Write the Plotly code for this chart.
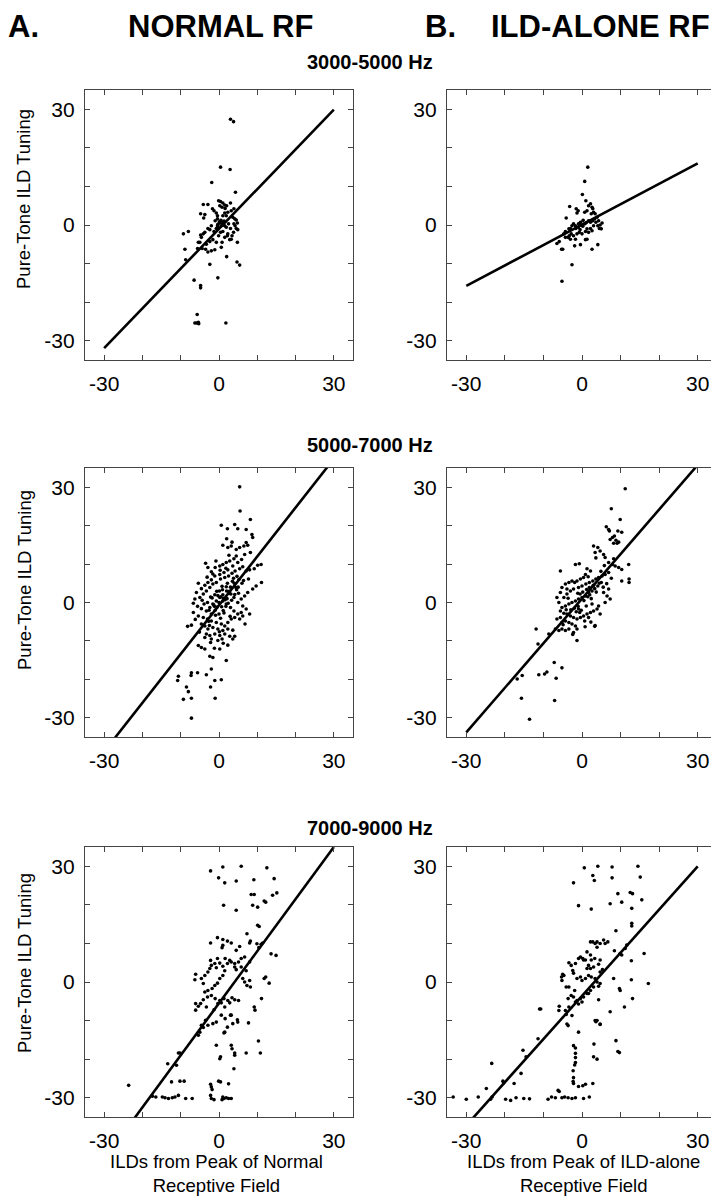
import plotly.graph_objects as go

# ILD tuning: pure-tone vs receptive-field peak, by frequency band
bands = ["3000-5000 Hz", "5000-7000 Hz", "7000-9000 Hz"]
col_heads = ["NORMAL RF", "ILD-ALONE RF"]
col_letters = ["A.", "B."]
x_titles = ["ILDs from Peak of Normal<br>Receptive Field",
            "ILDs from Peak of ILD-alone<br>Receptive Field"]
y_title = "Pure-Tone ILD Tuning"
tick_vals = [-30, -20, -10, 0, 10, 20, 30]
tick_text = ["-30", "", "", "0", "", "", "30"]

# regression lines (slope, intercept) per panel: normal then ild-alone, by band
fit_slope = [[1.03, 0.53], [1.27, 1.16], [1.35, 1.12]]
fit_icept = [[-1.0, 0.1], [-0.7, 1.0], [-5.5, -3.6]]

normal_3k = [
    (3.0, 27.4), (3.8, 26.8), (0.4, 15.0), (2.9, 14.4), (-1.9, 11.0), (4.3, 8.5),
    (-4.1, 5.3), (-2.9, 5.3), (-0.1, 6.3), (0.4, 6.1), (1.0, 5.7), (1.5, 5.2),
    (3.0, 5.7), (0.2, 5.0), (-4.8, 2.9), (-3.7, 2.7), (-4.0, 1.8), (-1.7, 4.2),
    (-1.3, 3.7), (-0.7, 3.1), (-0.4, 2.4), (1.5, 3.1), (1.9, 2.4), (3.9, 4.2),
    (3.2, 3.7), (4.1, 1.6), (4.5, 1.3), (4.8, 0.5), (3.9, 0.3), (-9.3, -2.3),
    (-8.0, -1.7), (-8.9, -6.3), (-8.7, -9.0), (-2.4, -10.2), (-6.5, -14.3),
    (-4.8, -15.7), (-4.8, -16.3), (-0.3, -13.7), (2.0, -8.2), (4.7, -9.6),
    (5.4, -10.4), (4.8, -4.5), (-5.7, -23.2), (-6.3, -25.4), (-5.9, -25.4),
    (-5.4, -25.2), (-5.3, -25.6), (1.8, -25.4), (-5.4, -4.5), (-4.6, -3.2),
    (-4.8, -2.6), (-4.1, -2.3), (-3.7, -1.9), (-2.9, -0.9), (-2.4, -1.2),
    (-2.0, -0.2), (-1.3, -1.7), (-0.7, -0.9), (0.2, 0.5), (0.6, -0.2), (1.0, 0.0),
    (-0.3, 0.2), (-0.4, -0.2), (1.5, -0.2), (1.9, -0.6), (2.5, 0.3), (3.0, -0.9),
    (2.3, -2.3), (3.2, -3.7), (2.8, -3.8), (1.5, -3.2), (0.8, -4.5), (0.6, -5.8),
    (-0.7, -4.5), (-1.1, -6.4), (-2.0, -6.7), (-2.9, -7.0), (-3.5, -6.3),
    (-4.4, -6.1), (-5.6, -6.1), (-5.0, -4.5), (-3.3, -5.0), (-2.4, -4.3),
    (-1.6, -3.8), (-0.1, -2.8), (0.4, -1.9), (1.0, -1.7), (2.2, -2.8), (3.4, -2.8),
    (3.8, -1.9), (4.5, -0.9), (4.9, -1.2), (-1.0, 1.1), (-0.4, 1.6), (1.0, 2.4),
    (0.8, 4.6), (1.6, 4.3), (2.0, 5.0), (2.3, 3.3), (3.6, 2.0), (4.2, -0.2),
    (0.1, 0.8), (0.5, 1.2), (-0.2, -0.6), (0.9, 0.6), (1.3, 1.0),
]

ildalone_3k = [
    (1.5, 15.0), (0.7, 11.3), (0.1, 7.9), (1.0, 6.3), (-3.2, 4.8), (-4.1, 1.8),
    (-5.2, -14.6), (-2.6, -10.3), (-6.5, -4.8), (-5.9, -4.3), (-5.3, -6.3),
    (-5.0, -6.3), (-1.9, -5.4), (-0.4, -5.1), (0.9, -3.8), (1.3, -3.7), (2.6, -6.3),
    (4.1, -5.1), (-1.5, 4.2), (-1.0, 3.7), (-1.3, 3.1), (0.7, 3.3), (1.3, 3.7),
    (1.7, 5.0), (2.2, 5.5), (2.6, 4.6), (2.8, 4.2), (2.4, 2.9), (1.7, 1.1),
    (2.2, 0.7), (2.8, 1.1), (3.3, 1.6), (3.6, 0.7), (4.1, -0.2), (4.5, -0.9),
    (5.0, -1.0), (4.7, 0.0), (5.2, 0.5), (4.3, 1.1), (3.9, 2.0), (3.4, 2.9),
    (3.0, 3.3), (-4.3, -1.7), (-4.7, -2.3), (-3.4, -1.0), (-3.0, -0.9), (-2.6, -0.2),
    (-2.2, 0.3), (-1.7, -0.2), (-1.6, -0.9), (-1.0, -0.6), (-0.9, 0.3), (-0.4, 0.7),
    (-0.2, 0.0), (0.2, -0.3), (0.7, 0.3), (-0.7, -1.9), (-1.3, -2.3), (-2.2, -2.8),
    (-2.8, -2.3), (-3.3, -2.8), (-3.6, -3.2), (-4.3, -3.2), (-3.0, -3.7),
    (-1.7, -3.7), (0.0, -2.3), (0.9, -1.7), (1.3, -1.0), (1.7, -1.9), (2.2, -0.9),
    (2.6, -1.5), (3.0, -0.2), (0.3, 1.2), (1.1, 0.6), (-0.5, -1.2),
]

normal_5k = [
    (5.4, 30.1), (5.5, 23.8), (8.2, 21.6), (0.6, 20.1), (2.2, 19.2), (4.1, 20.3),
    (4.9, 19.2), (7.1, 19.0), (8.6, 17.7), (8.8, 16.9), (1.0, 14.9), (2.3, 14.3),
    (3.4, 15.7), (3.2, 14.7), (4.5, 13.8), (5.4, 14.3), (6.5, 14.7), (7.1, 15.6),
    (7.5, 14.9), (8.2, 13.0), (6.7, 12.5), (-3.5, 10.2), (-2.9, 9.1), (-2.0, 8.0),
    (-1.0, 9.1), (0.2, 9.5), (1.0, 9.9), (1.9, 10.4), (2.8, 10.8), (3.9, 11.4),
    (4.5, 12.1), (4.9, 10.4), (3.6, 9.5), (2.3, 8.5), (1.3, 7.8), (0.2, 7.3),
    (-1.1, 6.9), (-2.0, 5.9), (-2.9, 5.2), (-3.7, 4.5), (-4.6, 3.6), (-5.4, 5.0),
    (-5.9, 2.6), (-5.0, 1.3), (-4.1, 2.2), (-3.3, 3.0), (-2.4, 3.9), (-1.6, 4.8),
    (-0.7, 5.2), (0.4, 6.1), (1.5, 6.5), (2.5, 6.9), (3.4, 7.6), (4.2, 8.2),
    (5.4, 8.8), (6.2, 9.3), (7.1, 8.2), (8.0, 8.5), (9.2, 8.8), (10.1, 9.7),
    (11.0, 9.9), (11.1, 5.2), (9.7, 4.3), (8.8, 3.5), (7.5, 2.6), (6.7, 1.7),
    (5.8, 0.9), (4.9, 0.0), (6.2, -0.9), (7.1, -1.7), (5.8, -2.6), (4.9, -3.0),
    (3.9, -2.2), (3.0, -1.3), (1.9, -0.4), (1.0, 0.4), (0.2, 1.3), (-0.7, 0.4),
    (-1.6, -0.4), (-2.4, -1.3), (-3.3, -2.2), (-4.6, -1.6), (-5.6, -1.0),
    (-6.7, -0.2), (-6.3, 0.9), (-6.7, -2.6), (-5.4, -3.5), (-4.1, -3.9),
    (-3.0, -4.3), (-2.0, -4.8), (-0.7, -5.2), (0.6, -5.6), (1.5, -6.1), (2.3, -5.2),
    (3.2, -4.3), (4.1, -3.9), (5.4, -4.3), (6.2, -3.5), (6.8, -5.6), (8.0, -3.0),
    (2.3, -6.9), (1.0, -7.3), (-0.3, -6.9), (-1.6, -6.5), (-2.9, -6.9),
    (-3.7, -6.1), (-4.6, -5.6), (-3.3, -8.2), (-2.4, -8.6), (-1.1, -8.2),
    (0.2, -8.6), (1.5, -8.2), (2.8, -8.8), (3.6, -9.5), (4.1, -8.8), (0.8, -9.5),
    (-0.3, -9.9), (-2.0, -9.5), (-2.2, -10.4), (-3.7, -9.1), (-8.2, -6.2),
    (-7.2, -5.9), (-5.4, -11.2), (-4.6, -11.7), (-3.7, -12.1), (-2.4, -14.0),
    (-1.6, -14.3), (0.2, -12.1), (2.3, -11.1), (1.9, -15.1), (-2.0, -17.3),
    (-3.3, -18.8), (-7.2, -18.3), (-7.3, -19.0), (-5.6, -18.3), (-10.6, -19.2),
    (-10.8, -20.3), (-8.5, -22.0), (-8.0, -23.2), (-9.3, -25.2), (-7.2, -24.9),
    (-2.2, -22.0), (-1.1, -20.3), (0.6, -20.1), (-1.0, -24.9), (-7.2, -30.1),
    (1.0, 2.0), (2.0, 3.0), (0.0, 0.0), (1.2, 1.1), (3.0, 4.0), (2.1, 1.0),
    (-1.0, -2.0), (0.0, -3.0), (-1.2, -1.0), (3.1, 2.2), (4.0, 5.0), (2.2, 5.0),
    (-2.0, -3.0), (1.1, -2.1), (-3.0, 0.0), (5.0, 4.0), (4.1, 2.1), (6.0, 5.0),
    (0.1, 3.0), (-1.1, 2.0), (0.5, 1.5), (1.8, -1.0), (2.6, 2.4), (3.5, 5.5),
    (-0.5, -1.2), (-1.8, 1.2), (0.8, 4.2), (4.6, 3.3), (5.2, 6.0), (-2.6, -2.0),
    (-0.3, 1.8), (0.7, -1.1), (1.6, 0.7), (2.7, 2.9), (3.3, 0.6), (-1.4, -0.6),
    (-2.2, 1.4), (0.9, 3.3), (1.9, 4.1), (3.8, 6.3), (4.4, 3.9), (5.1, 2.4),
    (-0.9, -3.3), (0.4, -4.1), (1.3, -2.7), (-2.7, -4.9), (-3.9, -0.4),
    (-4.4, 0.6), (2.9, -3.6), (3.6, -7.2), (0.3, 8.4), (-1.6, 7.4), (2.6, 12.3),
    (5.9, 11.2), (6.4, 5.7), (7.7, 6.1), (-5.1, -7.7), (-1.2, -11.9), (1.1, -10.6),
    (-6.2, -4.4), (2.4, -0.2), (-0.6, 2.9), (3.9, 1.3), (-2.5, -6.0), (1.8, 8.9),
    (4.7, 6.8), (-3.1, 6.6), (0.1, -7.6), (-0.8, 10.8), (2.0, 16.6),
]

ildalone_5k = [
    (11.2, 29.6), (7.6, 24.4), (9.9, 21.6), (6.3, 19.7), (6.9, 19.0), (7.1, 18.6),
    (9.3, 18.6), (10.3, 18.3), (8.4, 17.3), (7.9, 16.9), (8.8, 16.2), (9.5, 15.7),
    (9.1, 15.4), (8.2, 15.4), (7.3, 16.4), (3.0, 14.7), (4.1, 14.3), (3.4, 13.0),
    (4.7, 13.4), (5.6, 12.5), (6.0, 11.7), (6.9, 10.4), (7.9, 9.9), (8.6, 9.5),
    (9.5, 9.1), (10.3, 8.6), (12.1, 9.9), (12.2, 6.1), (12.2, 5.2), (10.3, 5.6),
    (-1.7, 9.9), (-0.7, 10.1), (1.3, 8.8), (2.2, 8.2), (0.9, 7.3), (0.4, 6.5),
    (-0.4, 6.1), (-1.3, 5.6), (-1.9, 5.2), (-2.6, 5.6), (-3.4, 5.2), (-4.3, 4.8),
    (-5.2, 3.9), (-3.9, 3.5), (-3.0, 3.0), (-2.2, 3.5), (-0.9, 3.9), (0.0, 4.3),
    (1.0, 4.8), (1.9, 5.2), (2.8, 5.6), (3.6, 6.1), (4.3, 6.5), (5.2, 6.9),
    (6.0, 7.3), (6.9, 7.8), (5.0, 5.2), (4.1, 4.3), (3.3, 3.6), (2.6, 3.0),
    (1.7, 2.6), (0.9, 1.7), (0.0, 1.3), (-0.9, 0.9), (-1.7, 0.4), (-2.6, 0.0),
    (-3.4, -0.4), (-4.3, -0.9), (-5.2, -1.3), (-5.6, -2.2), (-4.7, -2.8),
    (-3.9, -3.0), (-3.0, -3.5), (-2.2, -3.9), (-1.3, -4.3), (-0.4, -3.9),
    (0.4, -3.5), (1.3, -3.0), (2.2, -2.6), (3.0, -2.2), (3.9, -1.7), (4.7, -3.0),
    (1.7, -3.9), (0.7, -4.8), (3.3, -6.2), (-1.3, -6.9), (-2.2, -7.8), (-3.4, -6.9),
    (-4.3, -7.3), (-5.2, -6.9), (-6.0, -7.3), (-6.9, -6.9), (-5.6, -3.9),
    (-6.5, -4.3), (-5.2, -5.2), (-4.3, -4.8), (-3.4, -5.2), (-2.6, -5.6),
    (-1.7, -6.1), (-0.9, -1.7), (-6.0, 0.0), (-6.5, 1.3), (-4.7, 1.3), (-3.9, 2.2),
    (-5.6, 2.6), (5.6, 2.6), (6.5, 1.7), (7.3, 0.9), (6.9, 3.5), (6.0, 0.0),
    (4.3, -0.9), (2.6, -0.4), (-5.6, 8.2), (-11.9, -6.9), (-11.4, -10.8),
    (-8.6, -8.2), (-7.2, -15.6), (-5.2, -17.0), (-9.7, -18.6), (-11.2, -18.8),
    (-9.1, -18.1), (-15.5, -19.0), (-16.8, -19.9), (-6.7, -19.7), (-15.7, -24.9),
    (-7.1, -25.5), (-13.6, -30.4), (-1.3, -9.9), (3.4, -6.0),
    (0.5, 0.5), (1.5, 1.5), (2.0, 2.0), (-1.0, -1.0), (-2.0, -1.5), (3.0, 4.5),
    (1.2, 3.4), (-0.5, 2.2), (2.4, 1.0), (-1.5, -2.4), (4.5, 5.0), (5.5, 4.0),
    (0.2, 2.7), (1.1, -0.9), (-0.6, -2.6), (2.9, 4.4), (3.7, 2.7), (4.9, 8.1),
    (5.8, 9.6), (-2.9, -1.9), (-3.6, 1.1), (-1.1, 2.4), (1.6, 6.7), (2.3, -5.1),
    (-4.9, -5.8), (6.4, 4.9), (7.6, 6.3), (0.8, -6.3), (-2.4, -8.3), (3.6, 11.6),
    (-4.1, -1.9), (8.2, 11.4), (-0.2, -2.0), (1.9, 3.9),
]

normal_7k = [
    (-2.2, 28.8), (1.0, 29.8), (5.8, 30.0), (12.5, 29.6), (-0.1, 27.0), (1.5, 25.7),
    (4.5, 26.2), (9.1, 26.5), (14.4, 26.8), (8.4, 22.7), (9.2, 22.7), (11.8, 21.0),
    (12.2, 20.7), (14.0, 22.5), (15.1, 23.1), (1.2, 19.9), (4.5, 18.6), (8.8, 19.9),
    (10.1, 19.4), (10.1, 14.7), (10.5, 14.4), (-0.4, 11.5), (-2.2, 10.1),
    (1.0, 11.0), (1.0, 9.5), (0.8, 8.9), (2.2, 10.6), (3.2, 10.1), (4.5, 8.2),
    (5.4, 9.2), (7.3, 12.5), (8.2, 10.6), (8.0, 10.1), (9.9, 9.9), (11.0, 9.8),
    (10.4, 8.9), (11.4, 10.1), (13.6, 7.3), (14.9, 6.9), (1.6, 6.1), (2.8, 5.6),
    (2.2, 4.8), (3.2, 5.2), (4.1, 4.8), (5.1, 5.2), (5.8, 6.1), (6.7, 6.5),
    (5.8, 3.9), (8.0, 5.2), (7.1, 2.9), (6.2, 0.9), (6.7, 0.0), (7.3, -0.9),
    (8.2, -1.3), (8.0, 0.4), (4.5, 3.2), (4.1, 3.9), (-6.1, 2.0), (-6.3, 0.6),
    (-4.6, 0.9), (-4.1, -0.4), (-3.7, 1.7), (-2.9, 2.6), (-2.4, 3.5), (-2.0, 4.3),
    (-2.2, 5.6), (-1.1, 4.8), (-0.7, 3.7), (-0.4, 6.1), (0.2, 4.9), (1.0, 4.1),
    (1.5, 2.9), (1.0, 1.7), (0.2, 0.9), (-0.4, -0.3), (-1.1, -0.9), (-1.8, -1.7),
    (-2.9, -2.2), (-3.7, -2.6), (-2.0, -3.5), (-1.0, -4.3), (0.2, -4.8),
    (1.3, -4.3), (2.3, -4.8), (3.4, -4.1), (4.1, -4.6), (5.1, -4.8), (-3.0, -3.9),
    (-4.1, -4.6), (-4.8, -5.6), (-5.4, -6.3), (-6.1, -7.3), (-6.1, -5.6),
    (-3.3, -6.5), (-1.3, -7.2), (-0.3, -5.6), (0.6, -5.4), (1.5, -6.5), (2.8, -5.4),
    (3.2, -8.6), (4.8, -9.8), (4.9, -10.4), (9.2, -6.5), (9.4, -7.3), (11.1, -4.3),
    (13.1, -0.3), (11.8, 0.9), (12.2, 1.3), (-4.6, -11.2), (-4.1, -11.8),
    (-5.0, -13.0), (-5.4, -13.8), (-3.5, -9.9), (-2.9, -11.2), (-1.6, -10.8),
    (-0.7, -10.4), (0.6, -8.6), (1.6, -9.5), (3.0, -8.6), (3.6, -10.8),
    (2.2, -11.7), (1.3, -13.2), (-0.7, -16.4), (3.2, -16.4), (3.4, -17.3),
    (4.1, -18.4), (4.1, -19.0), (0.4, -19.4), (0.2, -19.9), (3.9, -22.5),
    (1.5, -13.0), (7.1, -18.4), (7.7, -10.6), (10.3, -15.3), (10.8, -18.4),
    (-10.6, -18.4), (-10.2, -18.4), (-13.4, -21.2), (-11.1, -21.6),
    (-12.4, -25.9), (-10.2, -25.7), (-9.1, -25.7), (-23.6, -26.8),
    (-17.4, -29.6), (-16.5, -29.8), (-14.8, -29.8), (-14.1, -30.0),
    (-13.2, -30.2), (-12.2, -30.0), (-11.5, -29.8), (-10.6, -29.4),
    (-8.7, -30.2), (-7.0, -30.2), (-2.2, -26.5), (-2.0, -27.2), (-1.8, -27.9),
    (-0.1, -25.7), (0.4, -25.9), (2.5, -26.4), (-2.2, -29.4), (-2.0, -30.2),
    (-1.3, -30.5), (0.8, -30.5), (1.3, -30.2), (1.9, -30.0), (2.5, -30.2),
    (3.2, -30.2), (1.0, -29.8),
]

ildalone_7k = [
    (0.6, 29.6), (4.1, 30.0), (7.8, 29.8), (14.5, 30.0), (2.8, 27.6), (3.2, 26.3),
    (-2.2, 25.7), (7.8, 27.0), (15.1, 27.2), (9.3, 22.9), (12.5, 23.2),
    (13.1, 22.9), (10.3, 20.7), (15.5, 21.3), (-0.9, 19.8), (2.4, 18.9),
    (7.3, 20.3), (12.9, 19.1), (12.9, 15.2), (12.9, 14.5), (8.8, 13.3),
    (2.2, 10.4), (2.8, 10.4), (3.4, 10.0), (3.9, 10.4), (4.7, 10.0), (5.6, 10.9),
    (6.0, 10.0), (6.7, 10.4), (3.9, 9.0), (11.6, 9.6), (11.2, 8.7), (8.4, 8.1),
    (16.1, 7.4), (12.8, 5.5), (1.3, 7.8), (2.2, 7.0), (0.2, 6.1), (0.9, 5.7),
    (10.3, 7.0), (9.9, 7.4), (-3.4, 5.0), (-2.8, 4.3), (-5.0, 2.0), (-5.3, 1.3),
    (-4.7, 1.7), (-5.2, 0.4), (-4.1, -1.3), (-3.4, -1.3), (-2.4, 3.0), (-2.2, 2.3),
    (-1.7, 4.8), (-0.9, 6.1), (-0.4, 6.5), (0.4, 5.7), (1.7, 4.3), (1.3, 3.5),
    (2.4, 5.7), (3.3, 6.1), (4.7, 5.7), (4.3, 4.6), (5.3, 3.2), (4.7, 2.6),
    (3.0, 3.9), (2.2, 3.5), (-1.3, 0.9), (-0.4, 1.3), (0.0, 0.4), (0.9, 0.9),
    (1.7, 1.7), (2.4, 1.3), (3.4, 0.9), (3.9, 0.0), (4.7, -0.4), (4.3, -1.1),
    (3.0, -1.3), (2.2, -2.2), (1.3, -3.0), (0.4, -3.9), (-0.4, -4.3), (-1.3, -4.8),
    (-2.2, -3.9), (-1.7, -5.2), (0.0, -5.2), (-0.9, -5.7), (-1.9, -2.2),
    (-2.8, -3.5), (-3.6, -4.3), (-3.4, -6.5), (-4.3, -7.4), (-4.1, -8.4),
    (-2.6, -8.7), (-3.9, -10.9), (-3.6, -11.3), (-5.9, -6.3), (-6.0, -7.4),
    (4.3, -4.6), (3.9, -10.0), (4.7, -10.9), (1.7, -3.0), (8.2, 0.9), (9.9, -2.2),
    (9.7, -1.7), (12.8, 0.6), (13.1, -4.3), (11.0, -6.5), (7.3, -7.7),
    (17.2, -0.4), (-11.0, -7.0), (-10.7, -7.0), (-11.4, -14.7), (-15.3, -17.7),
    (-14.5, -19.4), (-23.4, -21.1), (-15.8, -23.7), (-17.6, -26.3),
    (-20.5, -25.7), (-20.3, -26.2), (-24.8, -27.6), (-33.4, -29.8),
    (-30.0, -30.4), (-26.9, -29.8), (-23.7, -30.4), (-23.3, -29.8),
    (-19.8, -30.4), (-18.5, -30.7), (-17.1, -30.0), (-15.1, -30.2),
    (-13.6, -30.3), (-8.8, -30.4), (-7.9, -29.8), (-6.9, -30.0), (-6.2, -28.1),
    (-5.9, -28.4), (-5.2, -30.0), (-4.5, -29.8), (-3.6, -30.0), (-2.6, -30.2),
    (-1.7, -30.0), (0.4, -30.2), (1.9, -29.8), (-2.3, -23.0), (-2.2, -24.8),
    (-2.3, -25.8), (-2.2, -26.3), (-0.9, -27.1), (0.2, -26.9), (0.9, -26.5),
    (2.8, -26.3), (-2.2, -16.5), (-1.7, -17.1), (-1.7, -18.5), (-1.7, -19.6),
    (-1.7, -20.9), (-1.9, -21.5), (-0.9, -13.0), (3.1, -16.1), (3.0, -19.4),
    (3.9, -20.0), (8.8, -15.2), (9.3, -18.0), (9.7, -18.3), (3.4, -10.0),
    (3.6, -10.3), (4.7, -11.0),
]

panels = [[normal_3k, ildalone_3k], [normal_5k, ildalone_5k], [normal_7k, ildalone_7k]]

# page layout in pixels (719 x 1199)
W, H = 719, 1199
col_px = [(77, 345), (439, 709)]
row_px = [(82, 352), (460, 729), (839, 1109)]
FONT = "Liberation Sans, Arial, Helvetica, sans-serif"

fig = go.Figure()
layout = {}
n = 0
for r in range(3):
    for c in range(2):
        n += 1
        sfx = "" if n == 1 else str(n)
        pts = panels[r][c]
        xs = [p[0] for p in pts]
        ys = [p[1] for p in pts]
        fig.add_trace(go.Scatter(
            x=xs, y=ys, mode="markers", xaxis="x" + sfx, yaxis="y" + sfx,
            marker=dict(size=3.6, color="black", line=dict(width=0)),
            showlegend=False, hoverinfo="skip"))
        m, b = fit_slope[r][c], fit_icept[r][c]
        fig.add_trace(go.Scatter(
            x=[-30, 30], y=[m * -30 + b, m * 30 + b], mode="lines",
            xaxis="x" + sfx, yaxis="y" + sfx,
            line=dict(color="black", width=2.6), showlegend=False,
            hoverinfo="skip"))
        x0, x1 = col_px[c]
        y0, y1 = row_px[r]
        common = dict(
            range=[-35, 35], tickvals=tick_vals, ticktext=tick_text,
            ticks="inside", ticklen=5, tickwidth=1, tickcolor="#444",
            showline=True, linecolor="#444", linewidth=1.3, mirror="ticks",
            showgrid=False, zeroline=False, fixedrange=True,
            tickfont=dict(family=FONT, size=21, color="black"),
            ticklabelstandoff=5)
        layout["xaxis" + sfx] = dict(common, domain=[x0 / W, x1 / W],
                                     anchor="y" + sfx)
        layout["yaxis" + sfx] = dict(common, domain=[1 - y1 / H, 1 - y0 / H],
                                     anchor="x" + sfx)

annotations = []
# column heads
for c, (letter, head) in enumerate(zip(col_letters, col_heads)):
    annotations.append(dict(text="<b>" + letter + "</b>", x=[15, 432][c] / W,
                            y=1 - 19 / H, xanchor="center", yanchor="middle"))
    annotations.append(dict(text="<b>" + head + "</b>", x=[212, 592][c] / W,
                            y=1 - 19 / H, xanchor="center", yanchor="middle"))
for a in annotations:
    a["font"] = dict(family=FONT, size=31, color="black")
# band titles
for r, band in enumerate(bands):
    annotations.append(dict(text="<b>" + band + "</b>", x=362 / W,
                            y=1 - [54, 437, 820][r] / H, xanchor="center",
                            yanchor="middle",
                            font=dict(family=FONT, size=20, color="black")))
# y titles
for r in range(3):
    annotations.append(dict(text=y_title, x=16 / W,
                            y=1 - [191, 572, 955][r] / H, textangle=-90,
                            xanchor="center", yanchor="middle",
                            font=dict(family=FONT, size=18.5, color="black")))
# x titles
for c in range(2):
    annotations.append(dict(text=x_titles[c], x=[208, 575][c] / W,
                            y=1 - 1165 / H, xanchor="center", yanchor="middle",
                            font=dict(family=FONT, size=18.5, color="black")))
for a in annotations:
    a.update(xref="paper", yref="paper", showarrow=False)

fig.update_layout(
    width=W, height=H, margin=dict(l=0, r=0, t=0, b=0),
    paper_bgcolor="white", plot_bgcolor="white",
    annotations=annotations, **layout)

fig.write_html("out.html")
